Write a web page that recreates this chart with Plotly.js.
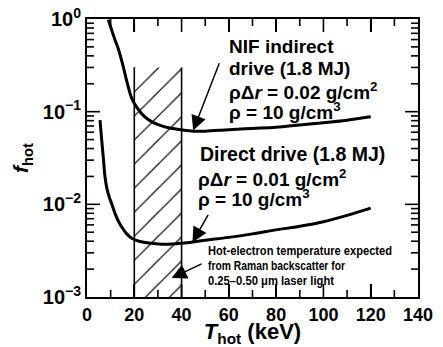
<!DOCTYPE html>
<html><head><meta charset="utf-8">
<script src="https://cdn.plot.ly/plotly-3.0.1.min.js"></script>
<style>html,body{margin:0;padding:0;background:#fff}#c{width:443px;height:347px}</style>
</head><body><div id="c"></div>
<script>
// Data
const nifT = [9.0, 10.5, 12, 13.2, 15, 17, 18.9, 21, 24, 27.3, 31, 35, 40, 45, 50, 60, 70, 80, 90, 100, 110, 120];
const nifF = [0.98, 0.75, 0.58, 0.48, 0.33, 0.205, 0.14, 0.112, 0.09, 0.078, 0.071, 0.0665, 0.0635, 0.0615, 0.0615, 0.064, 0.066, 0.068, 0.072, 0.076, 0.081, 0.088];
const ddT = [5.5, 6.2, 7.0, 7.6, 8.5, 9.5, 10.4, 12, 13.5, 14.7, 16.5, 18.9, 22, 27.3, 33, 40, 50, 60, 70, 80, 90, 100, 110, 120];
const ddF = [0.081, 0.05, 0.03, 0.02, 0.0145, 0.0118, 0.0102, 0.0078, 0.0064, 0.0057, 0.0049, 0.0043, 0.0040, 0.0038, 0.0037, 0.0038, 0.0041, 0.0044, 0.0048, 0.0053, 0.0058, 0.0065, 0.0076, 0.0091];
const bandT = [20, 40];          // Raman hot-electron temperature band
const bandTop = 0.3;
const floorF = 0.001;
const xTicks = [0, 20, 40, 60, 80, 100, 120, 140];
const xMinor = [10, 30, 50, 70, 90, 110, 130];
const yTicks = [0.001, 0.01, 0.1, 1];
const yTickText = ['10<sup>−3</sup>', '10<sup>−2</sup>', '10<sup>−1</sup>', '10<sup>0</sup>'];

const yMinor = [];
for (let d = -3; d < 0; d++) for (let m = 2; m <= 9; m++) yMinor.push(m * Math.pow(10, d));

const FONT = 'Liberation Sans, Arial, Helvetica, sans-serif';

const traces = [
  { // hatched band
    x: [bandT[0], bandT[1], bandT[1], bandT[0], bandT[0]],
    y: [floorF, floorF, bandTop, bandTop, floorF],
    mode: 'lines', fill: 'toself', line: { width: 0, color: 'rgba(0,0,0,0)' },
    fillcolor: 'rgba(0,0,0,0)',
    fillpattern: { shape: '/', size: 17, solidity: 0.07, fgcolor: '#000', bgcolor: 'rgba(0,0,0,0)' },
    hoverinfo: 'skip', showlegend: false
  },
  { // band edges
    x: [bandT[0], bandT[0], null, bandT[1], bandT[1]],
    y: [floorF, bandTop, null, floorF, bandTop],
    mode: 'lines', line: { color: '#000', width: 1.6 }, showlegend: false
  },
  { x: nifT, y: nifF, mode: 'lines', line: { color: '#000', width: 3, shape: 'spline' }, showlegend: false },
  { x: ddT, y: ddF, mode: 'lines', line: { color: '#000', width: 3, shape: 'spline' }, showlegend: false }
];

function txt(x, ylog, text, size) {
  return { xref: 'x', yref: 'y', x: x, y: ylog, text: text, showarrow: false,
    xanchor: 'left', yanchor: 'middle',
    font: { family: FONT, size: size || 19, color: '#000', weight: 'bold' } };
}
function arrow(xt, yt, xh, yh) {
  return { xref: 'x', yref: 'y', axref: 'x', ayref: 'y', x: xh, y: Math.log10(yh), ax: xt, ay: Math.log10(yt),
    text: '', showarrow: true, arrowhead: 2, arrowsize: 2, arrowwidth: 1.5, arrowcolor: '#000', standoff: 0 };
}

const smallLines = ['Hot-electron temperature expected', 'from Raman backscatter for', '0.25–0.50 μm laser light'];
const smallWidths = [184, 137, 126];

const annotations = [
  txt(59.2, -0.302, 'NIF indirect'),
  txt(59.2, -0.534, 'drive (1.8 MJ)'),
  txt(59.2, -0.777, 'ρΔ<i>r</i> = 0.02 g/cm<sup>2</sup>'),
  txt(59.2, -0.992, 'ρ = 10 g/cm<sup>3</sup>'),
  txt(47.0, -1.456, 'Direct drive (1.8 MJ)', 19.5),
  txt(46.2, -1.715, 'ρΔ<i>r</i> = 0.01 g/cm<sup>2</sup>'),
  txt(46.2, -1.931, 'ρ = 10 g/cm<sup>3</sup>'),
  txt(50.3, -2.497, smallLines[0], 13.5),
  txt(50.3, -2.665, smallLines[1], 13.5),
  txt(50.3, -2.826, smallLines[2], 13.5),
  arrow(56.2, 0.346, 44.9, 0.0625),
  arrow(51.6, 0.0080, 44.6, 0.0039),
  arrow(49.1, 0.00232, 35.8, 0.0016)
];

const TL = { major: 13, minor: 7 };

const layout = {
  width: 443, height: 347,
  margin: { l: 87, r: 25, t: 19, b: 50 },
  xaxis: {
    range: [0, 140], tickmode: 'array', tickvals: xTicks,
    ticks: 'inside', ticklen: TL.major, tickwidth: 1.6, tickcolor: '#000',
    showline: true, linewidth: 2, linecolor: '#000', mirror: 'ticks',
    showgrid: false, zeroline: false,
    tickfont: { family: FONT, size: 18, weight: 'bold', color: '#000' },
    title: { text: '<i>T</i><sub>hot</sub> (keV)', font: { family: FONT, size: 22, weight: 'bold', color: '#000' }, standoff: 4 }
  },
  yaxis: {
    type: 'log', range: [-3, 0], tickmode: 'array', tickvals: yTicks, ticktext: yTickText,
    ticks: 'inside', ticklen: TL.major, tickwidth: 1.6, tickcolor: '#000',
    showline: true, linewidth: 2, linecolor: '#000', mirror: 'ticks',
    showgrid: false, zeroline: false,
    tickfont: { family: FONT, size: 20, weight: 'bold', color: '#000' },
    title: { text: '<i>f</i><sub>hot</sub>', font: { family: FONT, size: 21, weight: 'bold', color: '#000' }, standoff: 8 }
  },
  annotations: annotations
};

Plotly.newPlot('c', traces, layout, { displayModeBar: false, staticPlot: true }).then(function (gd) {
  // condense the small caption lines like the reference's narrow type
  gd.querySelectorAll('text.annotation-text').forEach(function (t) {
    const i = smallLines.indexOf(t.textContent);
    if (i < 0) return;
    const before = t.getBBox();
    t.setAttribute('textLength', smallWidths[i]);
    t.setAttribute('lengthAdjust', 'spacingAndGlyphs');
    const after = t.getBBox();
    const dx = before.x - after.x;
    const prev = t.getAttribute('transform') || '';
    t.setAttribute('transform', 'translate(' + dx + ',0) ' + prev);
  });

  // inside tick marks on all four sides, positioned with the axes' own scales
  const NS = 'http://www.w3.org/2000/svg';
  const xa = gd._fullLayout.xaxis, ya = gd._fullLayout.yaxis;
  const svgs = gd.querySelectorAll('svg.main-svg');
  const host = svgs[svgs.length - 1];
  const g = document.createElementNS(NS, 'g');
  g.setAttribute('class', 'manual-ticks');
  function seg(x1, y1, x2, y2) {
    const l = document.createElementNS(NS, 'line');
    l.setAttribute('x1', x1); l.setAttribute('y1', y1);
    l.setAttribute('x2', x2); l.setAttribute('y2', y2);
    l.setAttribute('stroke', '#000'); l.setAttribute('stroke-width', '1.6');
    g.appendChild(l);
  }
  const top = ya._offset, bot = ya._offset + ya._length;
  const left = xa._offset, right = xa._offset + xa._length;
  function xt(v, len) { const p = xa._offset + xa.c2p(v); seg(p, bot, p, bot - len); seg(p, top, p, top + len); }
  function yt(v, len) { const p = ya._offset + ya.c2p(v); seg(left, p, left + len, p); seg(right, p, right - len, p); }
  xTicks.slice(1, -1).forEach(v => xt(v, TL.major));
  xMinor.forEach(v => xt(v, TL.minor));
  yTicks.slice(1, -1).forEach(v => yt(v, TL.major));
  yMinor.forEach(v => yt(v, TL.minor));
  host.appendChild(g);
});
</script>
</body></html>
